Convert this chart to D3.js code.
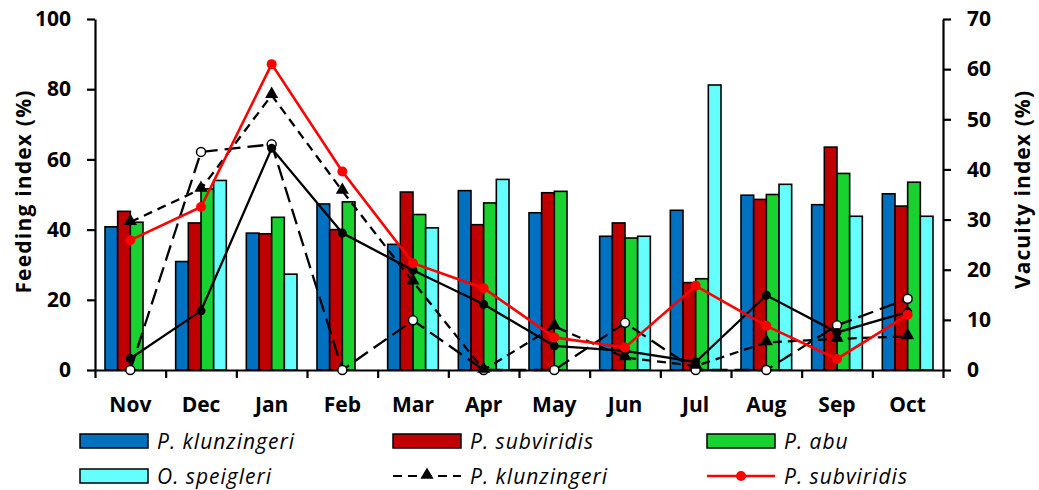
<!DOCTYPE html>
<html>
<head>
<meta charset="utf-8">
<script src="https://cdn.jsdelivr.net/npm/d3@7"></script>
<style>
  html, body { margin: 0; padding: 0; background: #fff; }
  svg { display: block; font-family: "Open Sans", Lato, sans-serif; }
</style>
</head>
<body>
<svg id="chart" width="1039" height="490"></svg>
<script>
// Months of the sampling year
const months = ["Nov", "Dec", "Jan", "Feb", "Mar", "Apr", "May", "Jun", "Jul", "Aug", "Sep", "Oct"];

// Feeding index (%) per species, left axis (bars)
const feedKlunzingeri = [40.8, 30.9, 39.0, 47.3, 35.8, 51.1, 44.8, 38.1, 45.5, 49.8, 47.1, 50.2];
const feedSubviridis  = [45.2, 41.9, 38.8, 40.0, 50.7, 41.4, 50.5, 41.9, 24.9, 48.6, 63.5, 46.7];
const feedAbu         = [42.1, 51.6, 43.5, 47.9, 44.3, 47.6, 50.9, 37.6, 26.0, 50.0, 56.0, 53.5];
const feedSpeigleri   = [0, 54.0, 27.3, 0, 40.5, 54.3, 0, 38.1, 81.2, 52.9, 43.8, 43.8];

// Vacuity index (%) per species, right axis (lines)
const vacKlunzingeri = [29.5, 36.1, 54.8, 35.7, 17.6, 0, 8.7, 2.5, 0.8, 5.5, 6.2, 6.7];
const vacSubviridis  = [25.9, 32.5, 61.0, 39.6, 21.3, 16.3, 6.5, 4.5, 16.8, 8.8, 2.2, 11.0];
const vacAbu         = [2.3, 11.8, 44.2, 27.3, 19.9, 13.1, 4.8, 3.8, 1.6, 14.9, 7.5, 11.6];
const vacSpeigleri   = [0, 43.5, 45.0, 0, 9.9, 0, 0, 9.4, 0, 0, 8.9, 14.2];

// Axis ticks
const feedTicks = [0, 20, 40, 60, 80, 100];
const vacTicks = [0, 10, 20, 30, 40, 50, 60, 70];

const barSeries = [
  { name: "P. klunzingeri", values: feedKlunzingeri, fill: "#0070C0" },
  { name: "P. subviridis",  values: feedSubviridis,  fill: "#C00000" },
  { name: "P. abu",         values: feedAbu,         fill: "#19D22F" },
  { name: "O. speigleri",   values: feedSpeigleri,   fill: "#66FFFF" }
];

const svg = d3.select("#chart");
const plot = { left: 95, right: 943, top: 19, bottom: 370 };

const x = d3.scaleBand().domain(months).range([plot.left, plot.right]).padding(0);
const xEdge = d3.scaleLinear().domain([0, months.length]).range([plot.left, plot.right]);
const groupPad = 10;
const xSub = d3.scaleBand().domain(barSeries.map(s => s.name))
  .range([groupPad, x.bandwidth() - groupPad]).padding(0);
const yL = d3.scaleLinear().domain([0, 100]).range([plot.bottom, plot.top]);
const yR = d3.scaleLinear().domain([0, 70]).range([plot.bottom, plot.top]);
const cx = m => x(m) + x.bandwidth() / 2;

// Bars
const barData = [];
barSeries.forEach(s => s.values.forEach((v, i) => {
  if (v > 0) barData.push({ month: months[i], series: s.name, value: v, fill: s.fill });
}));
svg.append("g").selectAll("rect").data(barData).join("rect")
  .attr("x", d => x(d.month) + xSub(d.series))
  .attr("y", d => yL(d.value))
  .attr("width", xSub.bandwidth())
  .attr("height", d => yL(0) - yL(d.value))
  .attr("fill", d => d.fill)
  .attr("stroke", "#000")
  .attr("stroke-width", 1.6);

// Axes
const styleAxis = g => {
  g.select(".domain").attr("stroke", "#000").attr("stroke-width", 2.2);
  g.selectAll(".tick line").attr("stroke", "#000").attr("stroke-width", 2.2);
  g.selectAll(".tick text").attr("font-size", "21px").attr("font-weight", 700)
    .attr("fill", "#000").attr("font-family", "'Open Sans', sans-serif");
};

svg.append("g").attr("transform", `translate(${plot.left},0)`)
  .call(d3.axisLeft(yL).tickValues(feedTicks).tickSize(8).tickSizeOuter(0).tickPadding(16))
  .call(styleAxis);

svg.append("g").attr("transform", `translate(${plot.right},0)`)
  .call(d3.axisRight(yR).tickValues(vacTicks).tickSize(8).tickSizeOuter(0).tickPadding(16))
  .call(styleAxis);

svg.append("g").attr("transform", `translate(0,${plot.bottom})`)
  .call(d3.axisBottom(xEdge).ticks(months.length).tickSize(8).tickSizeOuter(0).tickFormat(""))
  .call(styleAxis);

svg.append("g").selectAll("text").data(months).join("text")
  .attr("x", d => cx(d))
  .attr("y", 412)
  .attr("text-anchor", "middle")
  .attr("font-size", "21px").attr("font-weight", 700)
  .text(d => d);

// Axis titles
svg.append("text")
  .attr("transform", `translate(31,${(plot.top + plot.bottom) / 2 - 3}) rotate(-90)`)
  .attr("text-anchor", "middle")
  .attr("font-size", "21px").attr("font-weight", 700).attr("letter-spacing", "1.2px")
  .text("Feeding index (%)");

svg.append("text")
  .attr("transform", `translate(1030,${(plot.top + plot.bottom) / 2 - 5}) rotate(-90)`)
  .attr("text-anchor", "middle")
  .attr("font-size", "21px").attr("font-weight", 700).attr("letter-spacing", "1.1px")
  .text("Vacuity index (%)");

// Vacuity lines
const lineGen = d3.line().x((d, i) => cx(months[i])).y(d => yR(d));
const triangle = d3.symbol().type(d3.symbolTriangle).size(75);

// O. speigleri: long dashes, open circles
svg.append("path").datum(vacSpeigleri).attr("d", lineGen)
  .attr("fill", "none").attr("stroke", "#000").attr("stroke-width", 2.3)
  .attr("stroke-dasharray", "16,7");

// P. abu: solid black, filled circles
svg.append("path").datum(vacAbu).attr("d", lineGen)
  .attr("fill", "none").attr("stroke", "#000").attr("stroke-width", 2.3);

// P. klunzingeri: short dashes, triangles
svg.append("path").datum(vacKlunzingeri).attr("d", lineGen)
  .attr("fill", "none").attr("stroke", "#000").attr("stroke-width", 2.3)
  .attr("stroke-dasharray", "9,6");

// P. subviridis: red solid, red circles
svg.append("path").datum(vacSubviridis).attr("d", lineGen)
  .attr("fill", "none").attr("stroke", "#FF0000").attr("stroke-width", 2.6);

svg.append("g").selectAll("circle").data(vacSpeigleri).join("circle")
  .attr("cx", (d, i) => cx(months[i])).attr("cy", d => yR(d)).attr("r", 4.5)
  .attr("fill", "#fff").attr("stroke", "#000").attr("stroke-width", 1.5);

svg.append("g").selectAll("circle").data(vacAbu).join("circle")
  .attr("cx", (d, i) => cx(months[i])).attr("cy", d => yR(d)).attr("r", 4.5)
  .attr("fill", "#000");

svg.append("g").selectAll("path").data(vacKlunzingeri).join("path")
  .attr("d", triangle)
  .attr("transform", (d, i) => `translate(${cx(months[i])},${yR(d) - 1})`)
  .attr("fill", "#000");

svg.append("g").selectAll("circle").data(vacSubviridis).join("circle")
  .attr("cx", (d, i) => cx(months[i])).attr("cy", d => yR(d)).attr("r", 5)
  .attr("fill", "#FF0000");

// Legend
const legendItems = [
  { label: "P. klunzingeri", kind: "bar", fill: "#0070C0", col: 0, row: 0 },
  { label: "P. subviridis",  kind: "bar", fill: "#C00000", col: 1, row: 0 },
  { label: "P. abu",         kind: "bar", fill: "#19D22F", col: 2, row: 0 },
  { label: "O. speigleri",   kind: "bar", fill: "#66FFFF", col: 0, row: 1 },
  { label: "P. klunzingeri", kind: "dash", col: 1, row: 1 },
  { label: "P. subviridis",  kind: "red", col: 2, row: 1 }
];
const colX = [80, 393, 707];
const rowY = [441, 476];
const swW = 68;

const leg = svg.append("g").selectAll("g").data(legendItems).join("g")
  .attr("transform", d => `translate(${colX[d.col]},${rowY[d.row]})`);

leg.filter(d => d.kind === "bar").append("rect")
  .attr("x", 0).attr("y", -7).attr("width", swW).attr("height", 14)
  .attr("fill", d => d.fill).attr("stroke", "#000").attr("stroke-width", 1.5);

const dashLeg = leg.filter(d => d.kind === "dash");
dashLeg.append("line").attr("x1", 0).attr("x2", swW).attr("y1", 0).attr("y2", 0)
  .attr("stroke", "#000").attr("stroke-width", 2).attr("stroke-dasharray", "9,6");
dashLeg.append("path").attr("d", triangle).attr("transform", `translate(${swW / 2},-1)`).attr("fill", "#000");

const redLeg = leg.filter(d => d.kind === "red");
redLeg.append("line").attr("x1", 0).attr("x2", swW).attr("y1", 0).attr("y2", 0)
  .attr("stroke", "#FF0000").attr("stroke-width", 2.5);
redLeg.append("circle").attr("cx", swW / 2).attr("cy", 0).attr("r", 5).attr("fill", "#FF0000");

leg.append("text")
  .attr("x", swW + 9).attr("y", 7.5)
  .attr("font-size", "21px").attr("font-style", "italic").attr("letter-spacing", "1px")
  .text(d => d.label);
</script>
</body>
</html>
